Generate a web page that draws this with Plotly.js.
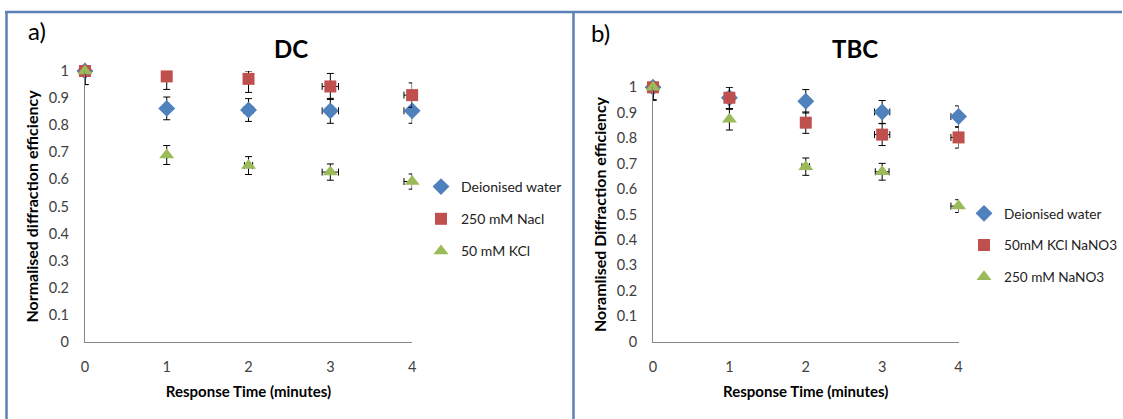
<!DOCTYPE html>
<html>
<head>
<meta charset="utf-8">
<script src="https://cdn.plot.ly/plotly-3.0.1.min.js"></script>
<style>html,body{margin:0;padding:0;background:#fff;}#plot{width:1123px;height:419px;}</style>
</head>
<body>
<div id="plot"></div>
<script>
// ---- data ----
var times = [0, 1, 2, 3, 4];
var xTickLabels = ['0', '1', '2', '3', '4'];
var yTickVals = [0, 0.1, 0.2, 0.3, 0.4, 0.5, 0.6, 0.7, 0.8, 0.9, 1];
var yTickLabels = ['0', '0.1', '0.2', '0.3', '0.4', '0.5', '0.6', '0.7', '0.8', '0.9', '1'];

// Panel a) DC
var dcNames = ['Deionised water', '250 mM Nacl', '50 mM KCl'];
var dcWater = [1.0, 0.862, 0.856, 0.853, 0.853];
var dcWaterErrPlus = [0, 0.042, 0.042, 0.046, 0.046];
var dcWaterErrMinus = [0.05, 0.042, 0.042, 0.046, 0.046];
var dcWaterErrX = [0, 0, 0.06, 0.1, 0.1];
var dcNacl = [1.0, 0.98, 0.971, 0.943, 0.911];
var dcNaclErrPlus = [0, 0.02, 0.029, 0.048, 0.045];
var dcNaclErrMinus = [0.05, 0.048, 0.05, 0.048, 0.045];
var dcNaclErrX = [0, 0, 0, 0.1, 0.1];
var dcKcl = [1.0, 0.690, 0.651, 0.627, 0.592];
var dcKclErrPlus = [0, 0.035, 0.033, 0.03, 0.028];
var dcKclErrMinus = [0.05, 0.035, 0.033, 0.03, 0.028];
var dcKclErrX = [0, 0, 0.05, 0.1, 0.1];

// Panel b) TBC
var tbcNames = ['Deionised water', '50mM KCl NaNO3', '250 mM NaNO3'];
var tbcWater = [1.0, 0.959, 0.945, 0.903, 0.885];
var tbcWaterErrPlus = [0, 0.041, 0.046, 0.045, 0.042];
var tbcWaterErrMinus = [0.05, 0.045, 0.046, 0.045, 0.042];
var tbcWaterErrX = [0, 0, 0, 0.1, 0.1];
var tbcKcl = [1.0, 0.959, 0.861, 0.814, 0.803];
var tbcKclErrPlus = [0, 0.041, 0.042, 0.043, 0.042];
var tbcKclErrMinus = [0.05, 0.043, 0.042, 0.043, 0.042];
var tbcKclErrX = [0, 0, 0, 0.1, 0.1];
var tbcNano3 = [1.0, 0.874, 0.688, 0.668, 0.533];
var tbcNano3ErrPlus = [0, 0.042, 0.034, 0.033, 0.025];
var tbcNano3ErrMinus = [0.05, 0.042, 0.034, 0.033, 0.025];
var tbcNano3ErrX = [0, 0, 0.05, 0.09, 0.1];

// ---- styles ----
var colors = ['#4f81bd', '#c0504d', '#9bbb59'];
var symbols = ['diamond', 'square', 'triangle-up'];
var sizes = [13, 12, 13];
var FONT = 'Lato, "Open Sans", sans-serif';

function mk(name, y, ep, em, ex, i, xa, ya, leg) {
  return {
    type: 'scatter', mode: 'markers', name: name,
    x: times, y: y, xaxis: xa, yaxis: ya, legend: leg,
    legendgroup: leg + i, cliponaxis: false,
    marker: {color: colors[i], symbol: symbols[i], size: sizes[i]},
    error_y: {type: 'data', symmetric: false, array: ep, arrayminus: em, color: '#000', thickness: 1, width: 3.5},
    error_x: {type: 'data', array: ex, color: '#000', thickness: 1, width: 3.5}
  };
}

var traces = [
  mk(dcNames[0], dcWater, dcWaterErrPlus, dcWaterErrMinus, dcWaterErrX, 0, 'x', 'y', 'legend'),
  mk(dcNames[1], dcNacl, dcNaclErrPlus, dcNaclErrMinus, dcNaclErrX, 1, 'x', 'y', 'legend'),
  mk(dcNames[2], dcKcl, dcKclErrPlus, dcKclErrMinus, dcKclErrX, 2, 'x', 'y', 'legend'),
  mk(tbcNames[0], tbcWater, tbcWaterErrPlus, tbcWaterErrMinus, tbcWaterErrX, 0, 'x2', 'y2', 'legend2'),
  mk(tbcNames[1], tbcKcl, tbcKclErrPlus, tbcKclErrMinus, tbcKclErrX, 1, 'x2', 'y2', 'legend2'),
  mk(tbcNames[2], tbcNano3, tbcNano3ErrPlus, tbcNano3ErrMinus, tbcNano3ErrX, 2, 'x2', 'y2', 'legend2')
];

function xax(domain, anchor) {
  return {
    domain: domain, anchor: anchor, range: [0, 4], fixedrange: true, automargin: false,
    tickvals: times, ticktext: xTickLabels, ticks: '', showgrid: false, zeroline: false,
    showline: true, linecolor: '#868686', linewidth: 1, ticklabelstandoff: 12,
    tickfont: {family: FONT, size: 14.5, color: '#404040'},
    title: {text: 'Response Time (minutes)', standoff: 12, font: {family: FONT, size: 15, color: '#000', weight: 'bold'}}
  };
}
function yax(domain, anchor, title) {
  return {
    domain: domain, anchor: anchor, range: [0, 1], fixedrange: true, automargin: false,
    tickvals: yTickVals, ticktext: yTickLabels, ticks: '', showgrid: false, zeroline: false,
    showline: true, linecolor: '#868686', linewidth: 1, ticklabelstandoff: 12,
    tickfont: {family: FONT, size: 14.5, color: '#404040'},
    title: {text: title, standoff: 6, font: {family: FONT, size: 16, color: '#000', weight: 'bold'}}
  };
}

var borderColor = '#5b80b6';
var layout = {
  width: 1123, height: 419,
  margin: {l: 0, r: 0, t: 0, b: 0},
  paper_bgcolor: '#fff', plot_bgcolor: '#fff',
  showlegend: true,
  font: {family: FONT, color: '#222'},
  xaxis: xax([85 / 1123, 412.5 / 1123], 'y'),
  yaxis: yax([77 / 419, 348 / 419], 'x', 'Normalised diffraction efficiency'),
  xaxis2: xax([653.6 / 1123, 959.4 / 1123], 'y2'),
  yaxis2: yax([77.3 / 419, 331.7 / 419], 'x2', 'Noramlised Diffraction efficiency'),
  legend: {x: 421 / 1123, y: 1 - 171 / 419, xanchor: 'left', yanchor: 'top', bgcolor: 'rgba(0,0,0,0)',
    tracegroupgap: 11, itemwidth: 30, font: {family: FONT, size: 14, color: '#222'}},
  legend2: {x: 965 / 1123, y: 1 - 198 / 419, xanchor: 'left', yanchor: 'top', bgcolor: 'rgba(0,0,0,0)',
    tracegroupgap: 11, itemwidth: 30, font: {family: FONT, size: 13.6, color: '#222'}},
  annotations: [
    {text: 'a)', xref: 'paper', yref: 'paper', x: 26 / 1123, y: 1 - 31 / 419, xanchor: 'left', yanchor: 'middle', showarrow: false, font: {family: FONT, size: 24, color: '#000'}},
    {text: 'b)', xref: 'paper', yref: 'paper', x: 590 / 1123, y: 1 - 32 / 419, xanchor: 'left', yanchor: 'middle', showarrow: false, font: {family: FONT, size: 24, color: '#000'}},
    {text: '<b>DC</b>', xref: 'paper', yref: 'paper', x: 291 / 1123, y: 1 - 48 / 419, xanchor: 'center', yanchor: 'middle', showarrow: false, font: {family: FONT, size: 24, color: '#000'}},
    {text: '<b>TBC</b>', xref: 'paper', yref: 'paper', x: 856 / 1123, y: 1 - 48 / 419, xanchor: 'center', yanchor: 'middle', showarrow: false, font: {family: FONT, size: 24, color: '#000'}}
  ],
  shapes: [
    {type: 'line', xref: 'paper', yref: 'paper', x0: 5 / 1123, x1: 1, y0: 1 - 12 / 419, y1: 1 - 12 / 419, line: {color: borderColor, width: 2.5}},
    {type: 'line', xref: 'paper', yref: 'paper', x0: 6.5 / 1123, x1: 6.5 / 1123, y0: 0, y1: 1 - 12 / 419, line: {color: borderColor, width: 2.5}},
    {type: 'line', xref: 'paper', yref: 'paper', x0: 574 / 1123, x1: 574 / 1123, y0: 0, y1: 1 - 12 / 419, line: {color: borderColor, width: 2.5}}
  ]
};

Plotly.newPlot('plot', traces, layout, {staticPlot: true, displayModeBar: false});
</script>
</body>
</html>
